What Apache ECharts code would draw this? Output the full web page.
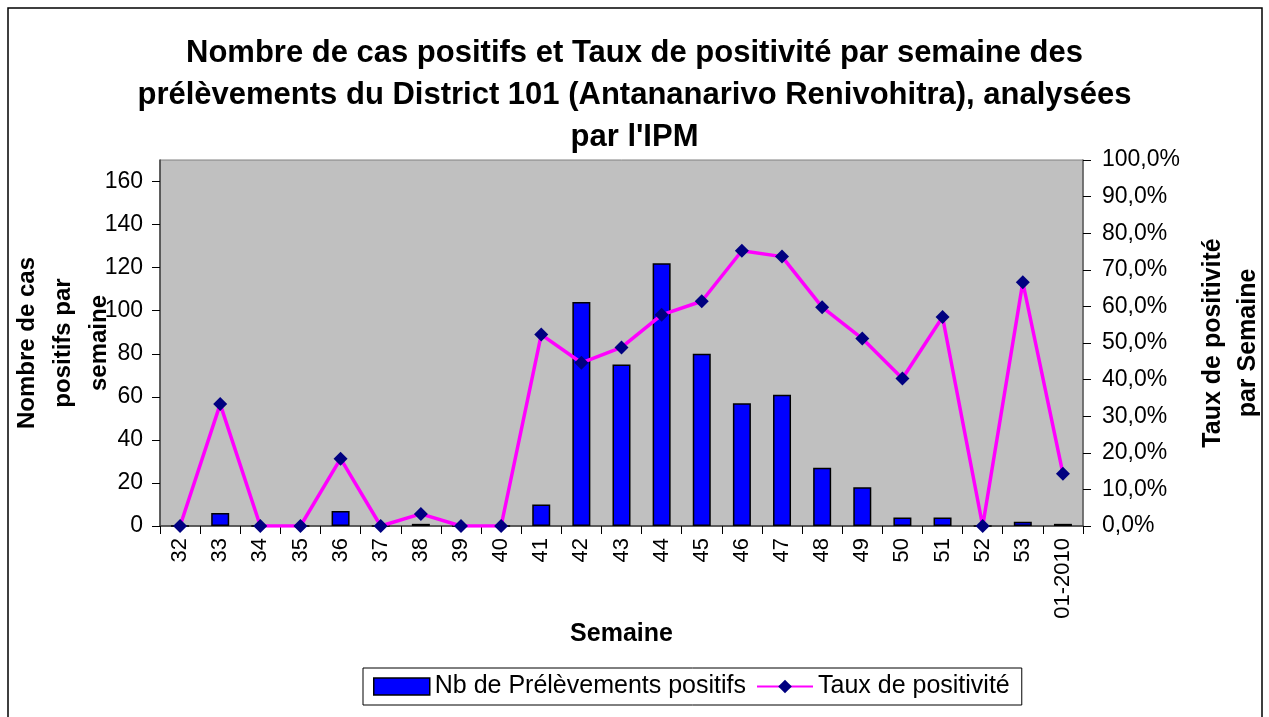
<!DOCTYPE html>
<html>
<head>
<meta charset="utf-8">
<script src="https://cdn.jsdelivr.net/npm/echarts@6/dist/echarts.min.js"></script>
<style>
  html, body { margin: 0; padding: 0; background: #fff; }
  #chart { width: 1269px; height: 717px; }
</style>
</head>
<body>
<div id="chart"></div>
<script>
// weeks of sampling
const semaines = ['32', '33', '34', '35', '36', '37', '38', '39', '40', '41', '42',
  '43', '44', '45', '46', '47', '48', '49', '50', '51', '52', '53', '01-2010'];
// number of positive samples per week
const nbPositifs = [0, 6, 0, 0, 7, 0, 1, 0, 0, 10, 104, 75, 122, 80, 57, 61, 27, 18, 4, 4, 0, 2, 1];
// positivity rate in %
const tauxPositivite = [0, 33.3, 0, 0, 18.4, 0, 3.3, 0, 0, 52.3, 44.6, 48.8, 57.7, 61.4,
  75.2, 73.6, 59.8, 51.2, 40.3, 57.1, 0, 66.6, 14.3];

const font = 'Liberation Sans, Arial, sans-serif';
const chart = echarts.init(document.getElementById('chart'));

chart.setOption({
  backgroundColor: '#ffffff',
  animation: false,
  textStyle: { fontFamily: font },
  graphic: [{
    type: 'rect',
    shape: { x: 8, y: 8, width: 1254, height: 730 },
    style: { fill: 'none', stroke: '#000', lineWidth: 1.5 },
    silent: true
  }],
  title: {
    text: "Nombre de cas positifs et Taux de positivité par semaine des\nprélèvements du District 101 (Antananarivo Renivohitra), analysées\npar l'IPM",
    left: 'center',
    top: 27,
    textStyle: { fontFamily: font, fontSize: 31, fontWeight: 'bold', lineHeight: 42, color: '#000' }
  },
  legend: {
    left: 363,
    top: 668,
    padding: [6, 12, 6, 10],
    borderColor: '#000',
    borderWidth: 1,
    itemGap: 10,
    itemWidth: 56,
    itemHeight: 17,
    textStyle: { fontFamily: font, fontSize: 25, color: '#000' },
    data: [
      { name: 'Nb de Prélèvements positifs', icon: 'rect', itemStyle: { borderColor: '#000', borderWidth: 1.5 } },
      { name: 'Taux de positivité' }
    ]
  },
  grid: {
    left: 160,
    right: 186,
    top: 160,
    bottom: 191,
    show: true,
    backgroundColor: '#c0c0c0',
    borderColor: '#808080',
    borderWidth: 1,
    containLabel: false,
    outerBoundsMode: 'none'
  },
  xAxis: {
    type: 'category',
    data: semaines,
    name: 'Semaine',
    nameLocation: 'middle',
    nameGap: 96,
    nameMoveOverlap: false,
    nameTextStyle: { fontFamily: font, fontSize: 25, fontWeight: 'bold', color: '#000' },
    axisLine: { lineStyle: { color: '#404040', width: 1.5 } },
    axisTick: { show: true, length: 8, lineStyle: { color: '#000' } },
    axisLabel: { rotate: 90, fontSize: 22, color: '#000', margin: 12, fontFamily: font },
    splitLine: { show: false }
  },
  yAxis: [{
    type: 'value',
    min: 0,
    max: 170,
    interval: 20,
    name: 'Nombre de cas\npositifs par\nsemaine',
    nameLocation: 'middle',
    nameRotate: 90,
    nameGap: 43,
    nameMoveOverlap: false,
    nameTextStyle: { fontFamily: font, fontSize: 24, fontWeight: 'bold', color: '#000', lineHeight: 36 },
    axisLine: { show: true, lineStyle: { color: '#404040', width: 1.5 } },
    axisTick: { show: true, length: 8, lineStyle: { color: '#000' } },
    axisLabel: { fontSize: 23, color: '#000', margin: 17, showMaxLabel: false, fontFamily: font },
    splitLine: { show: false }
  }, {
    type: 'value',
    min: 0,
    max: 100,
    interval: 10,
    position: 'right',
    name: 'Taux de positivité\npar Semaine',
    nameLocation: 'middle',
    nameRotate: 90,
    nameGap: 113,
    nameMoveOverlap: false,
    nameTextStyle: { fontFamily: font, fontSize: 25, fontWeight: 'bold', color: '#000', lineHeight: 35 },
    axisLine: { show: true, lineStyle: { color: '#606060', width: 1.5 } },
    axisTick: { show: true, length: 8, lineStyle: { color: '#000' } },
    axisLabel: {
      fontSize: 23, color: '#000', margin: 19, fontFamily: font,
      formatter: v => v.toFixed(1).replace('.', ',') + '%'
    },
    splitLine: { show: false }
  }],
  series: [{
    name: 'Nb de Prélèvements positifs',
    type: 'bar',
    yAxisIndex: 0,
    data: nbPositifs,
    barWidth: 18,
    itemStyle: { color: '#0000ff', borderColor: '#000', borderWidth: 1.5 }
  }, {
    name: 'Taux de positivité',
    type: 'line',
    yAxisIndex: 1,
    data: tauxPositivite,
    symbol: 'diamond',
    symbolSize: 14,
    lineStyle: { color: '#ff00ff', width: 3.5 },
    itemStyle: { color: '#000080' }
  }]
});
</script>
</body>
</html>
